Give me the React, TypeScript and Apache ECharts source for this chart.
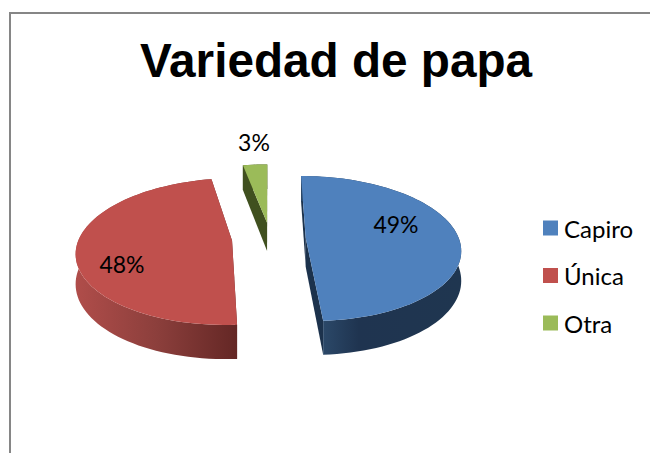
import React, { useEffect, useRef } from "react";
import * as echarts from "echarts";

const titleText = "Variedad de papa";
const categories = ["Capiro", "Única", "Otra"];
const shares = [49, 48, 3];

const topColors = ["#4F81BD", "#C0504D", "#9BBB59"];
const radialColors = ["#1C324C", "#642725", "#40501F"];
const wallStops: [number, string][][] = [
  [[0, "#2B4868"], [0.14, "#2B4868"], [0.36, "#1F3450"], [1, "#1F3650"]],
  [[0, "#B04D4A"], [0.5, "#8C3F3C"], [1, "#642725"]],
  [[0, "#40501F"], [1, "#40501F"]],
];
const explodeX = [0.24, -0.24, -0.013];
const explodeY = [0, 0.04, -0.22];
const labelX = [396, 122, 254];
const labelY = [224, 264, 142];

const CX = 269;
const CY = 238;
const R = 153;
const A = 71;
const K = 0.145;
const DEPTH = 29;
const FONT = "Lato, 'Open Sans', sans-serif";

const total = shares.reduce((a, b) => a + b, 0);

function project(px: number, py: number, lift: number): number[] {
  const w = 1 - K * py;
  return [CX + (R * px) / w, CY + (A * py + lift) / w];
}

function renderSlice(index: number) {
  return (_params: any, api: any) => {
    const value = api.value(0);
    const before = shares.slice(0, index).reduce((a, b) => a + b, 0);
    const start = (before / total) * Math.PI * 2;
    const end = start + (value / total) * Math.PI * 2;
    const ex = explodeX[index];
    const ey = explodeY[index];
    const steps = Math.max(4, Math.ceil(((end - start) / (Math.PI * 2)) * 160));
    const top: number[][] = [];
    const bottom: number[][] = [];
    for (let i = 0; i <= steps; i++) {
      const t = start + ((end - start) * i) / steps;
      const px = Math.sin(t) + ex;
      const py = -Math.cos(t) + ey;
      top.push(project(px, py, 0));
      bottom.push(project(px, py, DEPTH));
    }
    const apexTop = project(ex, ey, 0);
    const apexBottom = project(ex, ey, DEPTH);
    const radial = { fill: radialColors[index] };
    const gradient = new echarts.graphic.LinearGradient(
      0, 0, 1, 0,
      wallStops[index].map(([offset, color]) => ({ offset, color }))
    );
    return {
      type: "group",
      children: [
        {
          type: "polygon",
          shape: { points: [apexTop, top[0], bottom[0], apexBottom] },
          style: radial,
        },
        {
          type: "polygon",
          shape: { points: [apexTop, top[steps], bottom[steps], apexBottom] },
          style: radial,
        },
        {
          type: "polygon",
          shape: { points: [...top, ...bottom.slice().reverse()] },
          style: { fill: gradient },
        },
        {
          type: "polygon",
          shape: { points: [apexTop, ...top] },
          style: { fill: topColors[index] },
        },
        {
          type: "text",
          z2: 10,
          style: {
            x: labelX[index],
            y: labelY[index],
            text: `${Math.round((value / total) * 100)}%`,
            fill: "#000000",
            font: `23px ${FONT}`,
            align: "center",
            verticalAlign: "middle",
          },
        },
      ],
    };
  };
}

export default function App() {
  const ref = useRef<HTMLDivElement>(null);
  useEffect(() => {
    if (!ref.current) return;
    const chart = echarts.init(ref.current, undefined, { renderer: "svg" });
    chart.setOption({
      animation: false,
      backgroundColor: "#ffffff",
      title: {
        text: titleText,
        left: 331,
        top: 31,
        textAlign: "center",
        textStyle: {
          fontFamily: "'Liberation Sans', Arial, sans-serif",
          fontWeight: "bold",
          fontSize: 47.7,
          color: "#000000",
        },
      },
      legend: {
        orient: "vertical",
        left: 543,
        top: 216,
        padding: 0,
        itemWidth: 15,
        itemHeight: 15,
        itemGap: 23.5,
        icon: "rect",
        data: categories,
        textStyle: { fontFamily: FONT, fontSize: 24, color: "#000000", padding: [0, 0, 0, 1] },
      },
      graphic: [
        {
          type: "rect",
          silent: true,
          shape: { x: 10, y: 13, width: 680, height: 480 },
          style: { fill: "none", stroke: "#868686", lineWidth: 2 },
        },
      ],
      series: categories.map((name, i) => ({
        type: "custom",
        name,
        coordinateSystem: "none",
        itemStyle: { color: topColors[i] },
        renderItem: renderSlice(i),
        data: [[shares[i]]],
      })),
    });
    return () => chart.dispose();
  }, []);
  return <div ref={ref} style={{ position: "fixed", left: 0, top: 0, width: 650, height: 453 }} />;
}
